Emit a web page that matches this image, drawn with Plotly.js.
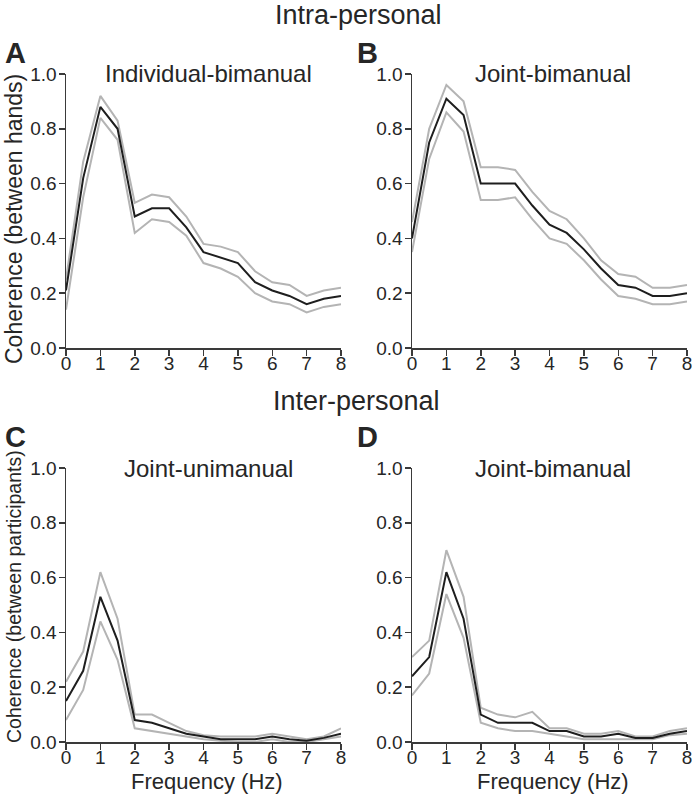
<!DOCTYPE html>
<html><head><meta charset="utf-8">
<script src="https://cdn.plot.ly/plotly-3.0.1.min.js"></script>
<style>html,body{margin:0;padding:0;background:#fff;} #chart{width:692px;height:795px;}</style>
</head><body><div id="chart"></div>
<script>
const freq = [0,0.5,1,1.5,2,2.5,3,3.5,4,4.5,5,5.5,6,6.5,7,7.5,8];
const xTicks = [0,1,2,3,4,5,6,7,8];
const yTicks = [0,0.2,0.4,0.6,0.8,1.0];
const yTickText = ['0.0','0.2','0.4','0.6','0.8','1.0'];

const aMean  = [0.21,0.62,0.88,0.80,0.48,0.51,0.51,0.44,0.35,0.33,0.31,0.24,0.21,0.19,0.16,0.18,0.19];
const aUpper = [0.25,0.68,0.92,0.83,0.53,0.56,0.55,0.48,0.38,0.37,0.35,0.28,0.24,0.23,0.19,0.21,0.22];
const aLower = [0.14,0.55,0.84,0.76,0.42,0.47,0.46,0.41,0.31,0.29,0.26,0.20,0.17,0.16,0.13,0.15,0.16];

const bMean  = [0.40,0.75,0.91,0.85,0.60,0.60,0.60,0.52,0.45,0.42,0.36,0.29,0.23,0.22,0.19,0.19,0.20];
const bUpper = [0.46,0.80,0.96,0.90,0.66,0.66,0.65,0.57,0.50,0.47,0.40,0.32,0.27,0.26,0.22,0.22,0.23];
const bLower = [0.35,0.69,0.86,0.79,0.54,0.54,0.55,0.47,0.40,0.38,0.32,0.25,0.19,0.18,0.16,0.16,0.17];

const cMean  = [0.15,0.26,0.53,0.37,0.08,0.07,0.05,0.03,0.02,0.01,0.01,0.01,0.02,0.01,0.005,0.015,0.03];
const cUpper = [0.22,0.33,0.62,0.45,0.10,0.10,0.07,0.04,0.025,0.02,0.02,0.02,0.03,0.02,0.01,0.02,0.05];
const cLower = [0.08,0.19,0.44,0.30,0.05,0.04,0.03,0.02,0.01,0.005,0,0,0.01,0,0,0.01,0.02];

const dMean  = [0.24,0.31,0.62,0.45,0.10,0.07,0.07,0.07,0.04,0.04,0.02,0.02,0.03,0.015,0.015,0.03,0.04];
const dUpper = [0.31,0.37,0.70,0.53,0.125,0.10,0.09,0.11,0.05,0.05,0.03,0.03,0.04,0.02,0.02,0.04,0.05];
const dLower = [0.17,0.25,0.54,0.38,0.07,0.05,0.04,0.04,0.03,0.02,0.01,0.01,0.01,0.01,0.01,0.025,0.03];

const W = 692, H = 795;
const FONT = 'Liberation Sans, Arial, Helvetica, sans-serif';
const TXT = '#262626';
const GRAY = '#b4b4b4', BLACK = '#1e1e1e';

const panels = [
  {mean:aMean, up:aUpper, lo:aLower, xa:'x',  ya:'y'},
  {mean:bMean, up:bUpper, lo:bLower, xa:'x2', ya:'y2'},
  {mean:cMean, up:cUpper, lo:cLower, xa:'x3', ya:'y3'},
  {mean:dMean, up:dUpper, lo:dLower, xa:'x4', ya:'y4'}
];
const data = [];
panels.forEach(p => {
  data.push({x:freq, y:p.up, xaxis:p.xa, yaxis:p.ya, mode:'lines', line:{color:GRAY, width:2}, hoverinfo:'skip'});
  data.push({x:freq, y:p.lo, xaxis:p.xa, yaxis:p.ya, mode:'lines', line:{color:GRAY, width:2}, hoverinfo:'skip'});
  data.push({x:freq, y:p.mean, xaxis:p.xa, yaxis:p.ya, mode:'lines', line:{color:BLACK, width:2}, hoverinfo:'skip'});
});

function px(x){return x/W;}
function py(y){return 1 - y/H;}

function xax(l, r, anchor){
  return {domain:[px(l), px(r)], anchor:anchor, range:[0,8], tickvals:xTicks, ticktext:xTicks.map(String),
    showgrid:false, zeroline:false, showline:true, linecolor:'#3a3a3a', linewidth:1.5,
    ticks:'outside', ticklen:6, tickwidth:1.5, tickcolor:'#3a3a3a', ticklabelstandoff:-8,
    ticklabeloverflow:'allow',
    tickfont:{family:FONT, size:19, color:TXT}, fixedrange:true};
}
function yax(t, b, anchor){
  return {domain:[py(b), py(t)], anchor:anchor, range:[0,1], tickvals:yTicks, ticktext:yTickText,
    showgrid:false, zeroline:false, showline:true, linecolor:'#3a3a3a', linewidth:1.5,
    ticks:'outside', ticklen:6, tickwidth:1.5, tickcolor:'#3a3a3a', ticklabelstandoff:-2,
    ticklabeloverflow:'allow',
    tickfont:{family:FONT, size:19, color:TXT}, fixedrange:true};
}

function ann(text, x, y, size, opts){
  return Object.assign({text:text, xref:'paper', yref:'paper', x:px(x), y:py(y), showarrow:false,
    xanchor:'center', yanchor:'middle', font:{family:FONT, size:size, color:TXT}}, opts||{});
}

const annotations = [
  ann('Intra-personal', 358, 15, 27),
  ann('Inter-personal', 356, 401, 27),
  ann('<b>A</b>', 3, 53, 29, {xanchor:'left'}),
  ann('<b>B</b>', 355, 53, 29, {xanchor:'left'}),
  ann('<b>C</b>', 3, 437, 29, {xanchor:'left'}),
  ann('<b>D</b>', 355, 437, 29, {xanchor:'left'}),
  ann('Individual-bimanual', 209, 74, 24),
  ann('Joint-bimanual', 553, 74, 24),
  ann('Joint-unimanual', 209, 468, 24),
  ann('Joint-bimanual', 553, 468, 24),
  ann('Coherence (between hands)', 14, 219, 23, {textangle:-90}),
  ann('Coherence (between participants)', 14, 597, 19.5, {textangle:-90}),
  ann('Frequency (Hz)', 207, 781, 22),
  ann('Frequency (Hz)', 553, 781, 22)
];

const layout = {
  width:W, height:H, margin:{l:0, r:0, t:0, b:0},
  paper_bgcolor:'#fff', plot_bgcolor:'#fff', showlegend:false,
  xaxis:xax(66,341,'y'), yaxis:yax(74,348,'x'),
  xaxis2:xax(412,687,'y2'), yaxis2:yax(74,348,'x2'),
  xaxis3:xax(66,341,'y3'), yaxis3:yax(468,742,'x3'),
  xaxis4:xax(412,687,'y4'), yaxis4:yax(468,742,'x4'),
  annotations:annotations
};
Plotly.newPlot('chart', data, layout, {staticPlot:true, displayModeBar:false});
</script>
</body></html>
